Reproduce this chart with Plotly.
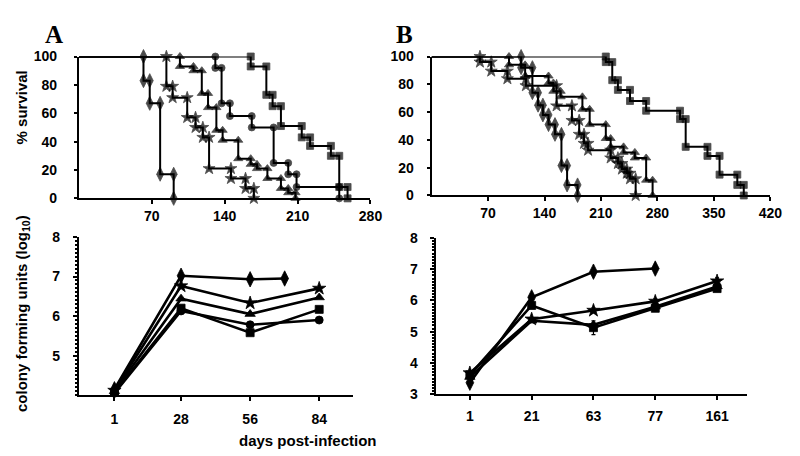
import plotly.graph_objects as go

# ---------------- Survival data (Kaplan-Meier steps) ----------------
# Panel A: event days and survival levels (% before first event, then after each event)
A_diamond_t = [62, 68, 78, 91]
A_diamond_s = [100, 83, 67, 17, 0]
A_star_t = [84, 90, 104, 112, 119, 125, 146, 160, 168]
A_star_s = [100, 79, 71, 57, 50, 43, 21, 14, 7, 0]
A_tri_t = [97, 110, 118, 124, 132, 138, 153, 165, 171, 181, 194, 201, 208]
A_tri_s = [100, 93, 90, 74, 64, 48, 41, 28, 24, 21, 14, 7, 4, 0]
A_circle_t = [131, 137, 145, 166, 187, 201, 209, 250]
A_circle_s = [100, 92, 67, 58, 50, 25, 17, 8, 0]
A_square_t = [165, 180, 186, 194, 214, 222, 242, 250, 258]
A_square_s = [100, 93, 73, 65, 51, 43, 37, 30, 8, 0]

# Panel B
B_diamond_t = [111, 125, 132, 138, 145, 153, 161, 168, 181]
B_diamond_s = [100, 92, 74, 65, 58, 51, 44, 21.5, 7.6, 0]
B_star_t = [60, 74, 94, 117, 155, 174, 183, 189, 194, 222, 231, 236, 242, 246, 253]
B_star_s = [100, 96, 89.5, 84, 79, 64.5, 54, 44, 37.5, 32.6, 27, 23, 19, 16, 12, 0]
B_tri_t = [96, 116, 145, 151, 160, 187, 196, 216, 222, 238, 252, 266, 274]
B_tri_s = [100, 94, 86, 81, 75, 71, 62, 51, 41, 35, 31, 27, 11, 0]
B_square_t = [216, 224, 231, 246, 266, 308, 315, 342, 357, 379, 387]
B_square_s = [100, 96, 83, 76, 68, 61, 55, 35, 28.5, 15, 7.6, 0]

A_surv_ticks = [70, 140, 210, 280]
B_surv_ticks = [70, 140, 210, 280, 350, 420]
surv_yticks = [0, 20, 40, 60, 80, 100]

# ---------------- CFU data (log10) ----------------
A_days = [1, 28, 56, 84]
A_diamond_days = [1, 28, 56, 70]
A_diamond_cfu = [4.15, 7.02, 6.93, 6.95]
A_star_cfu = [4.12, 6.76, 6.33, 6.70]
A_tri_cfu = [4.10, 6.44, 6.05, 6.47]
A_square_cfu = [4.07, 6.20, 5.58, 6.17]
A_circle_cfu = [4.05, 6.13, 5.78, 5.90]

B_day_labels = ["1", "21", "63", "77", "161"]
B_diamond_cfu = [3.37, 6.10, 6.92, 7.02]
B_square_cfu = [3.62, 5.84, 5.13, 5.75, 6.38]
B_square_err = [0.05, 0.05, 0.22, 0.05, 0.08]
B_star_cfu = [3.68, 5.40, 5.68, 5.97, 6.62]
B_star_err = [0.05, 0.05, 0.08, 0.08, 0.10]
B_tri_cfu = [3.55, 5.35, 5.22, 5.80, 6.45]

A_cfu_yticks = [5, 6, 7, 8]
B_cfu_yticks = [3, 4, 5, 6, 7, 8]

SYM = {"diamond": "diamond-tall", "star": "star", "tri": "triangle-up",
       "circle": "circle", "square": "square"}
SIZE = {"diamond": 10, "star": 9, "tri": 8, "circle": 7, "square": 7}

fig = go.Figure()


def km(times, levels):
    xs, ys = [0], [levels[0]]
    for i, t in enumerate(times):
        xs += [t, t]
        ys += [levels[i], levels[i + 1]]
    return xs, ys


def add_km(times, levels, sym, xa, ya):
    xs, ys = km(times, levels)
    sizes = [0] + [SIZE[sym]] * (len(xs) - 1)
    fig.add_trace(go.Scatter(
        x=xs, y=ys, mode="lines+markers", xaxis=xa, yaxis=ya,
        line=dict(color="black", width=2),
        marker=dict(symbol=SYM[sym], size=sizes, color="black",
                    line=dict(color="black", width=0.8)),
        cliponaxis=False, showlegend=False, hoverinfo="skip"))


for t, s, k in [(A_diamond_t, A_diamond_s, "diamond"), (A_star_t, A_star_s, "star"),
                (A_tri_t, A_tri_s, "tri"), (A_circle_t, A_circle_s, "circle"),
                (A_square_t, A_square_s, "square")]:
    add_km(t, s, k, "x", "y")

for t, s, k in [(B_diamond_t, B_diamond_s, "diamond"), (B_star_t, B_star_s, "star"),
                (B_tri_t, B_tri_s, "tri"), (B_square_t, B_square_s, "square")]:
    add_km(t, s, k, "x2", "y2")


def add_cfu(x, y, sym, xa, ya, err=None):
    fig.add_trace(go.Scatter(
        x=x, y=y, mode="lines+markers", xaxis=xa, yaxis=ya,
        line=dict(color="black", width=2.6),
        marker=dict(symbol=SYM[sym], size=SIZE[sym] + 1, color="black",
                    line=dict(color="black", width=0.8)),
        error_y=dict(type="data", array=err, color="black", thickness=1.2, width=2,
                     visible=err is not None),
        cliponaxis=False, showlegend=False, hoverinfo="skip"))


add_cfu(A_diamond_days, A_diamond_cfu, "diamond", "x3", "y3")
add_cfu(A_days, A_star_cfu, "star", "x3", "y3")
add_cfu(A_days, A_tri_cfu, "tri", "x3", "y3")
add_cfu(A_days, A_square_cfu, "square", "x3", "y3")
add_cfu(A_days, A_circle_cfu, "circle", "x3", "y3")

B_idx = list(range(len(B_day_labels)))
add_cfu(B_idx[:len(B_diamond_cfu)], B_diamond_cfu, "diamond", "x4", "y4")
add_cfu(B_idx, B_square_cfu, "square", "x4", "y4", B_square_err)
add_cfu(B_idx, B_star_cfu, "star", "x4", "y4", B_star_err)
add_cfu(B_idx, B_tri_cfu, "tri", "x4", "y4")

W, H = 800, 456
tickfont = dict(family="Liberation Sans", size=14, color="black", weight="bold")


def xd(a, b):
    return [a / W, b / W]


def yd(top, bottom):
    return [1 - bottom / H, 1 - top / H]


axis_common = dict(showline=True, linecolor="black", linewidth=2, ticks="outside",
                   tickcolor="black", tickwidth=1.5, showgrid=False, zeroline=False,
                   tickfont=tickfont, fixedrange=True)

fig.update_layout(
    width=W, height=H, margin=dict(l=0, r=0, t=0, b=0),
    paper_bgcolor="white", plot_bgcolor="white",
    xaxis=dict(domain=xd(72, 368), range=[0, 280], tickvals=A_surv_ticks, ticklen=4,
               anchor="y", **axis_common),
    yaxis=dict(domain=yd(42, 189), range=[0, 100], tickvals=surv_yticks, ticklen=3,
               ticklabelstandoff=14, anchor="x", **axis_common),
    xaxis2=dict(domain=xd(430, 774), range=[0, 420], tickvals=B_surv_ticks, ticklen=4,
                anchor="y2", **axis_common),
    yaxis2=dict(domain=yd(42, 186), range=[0, 100], tickvals=surv_yticks, ticklen=3,
                ticklabelstandoff=10, anchor="x2", **axis_common),
    xaxis3=dict(domain=xd(72, 350), range=[-13.4, 97.6], tickvals=A_days, ticklen=4,
                ticklabelstandoff=6, anchor="y3", **axis_common),
    yaxis3=dict(domain=yd(229, 393), range=[4, 8], tickvals=A_cfu_yticks, ticklen=4,
                ticklabelstandoff=10, anchor="x3",
                minor=dict(ticks="outside", ticklen=2, dtick=0.1, tickcolor="black"),
                **axis_common),
    xaxis4=dict(domain=xd(435, 750), range=[-0.54, 4.48], tickvals=B_idx,
                ticktext=B_day_labels, ticklen=4, ticklabelstandoff=4, anchor="y4",
                **axis_common),
    yaxis4=dict(domain=yd(230, 392), range=[3, 8], tickvals=B_cfu_yticks, ticklen=4,
                ticklabelstandoff=10, anchor="x4",
                minor=dict(ticks="outside", ticklen=2, dtick=0.1, tickcolor="black"),
                **axis_common),
)

lab = dict(family="Liberation Sans", size=15, color="black", weight="bold")
ann = dict(xref="paper", yref="paper", showarrow=False, xanchor="center", yanchor="middle")
letter = dict(family="Liberation Serif", size=25, color="black", weight="bold")
fig.add_annotation(x=47 / W, y=1 - 19 / H, text="A", font=letter, **ann)
fig.add_annotation(x=403 / W, y=1 - 19 / H, text="B", font=letter, **ann)
fig.add_annotation(x=14 / W, y=1 - 95 / H, text="% survival", textangle=-90,
                   font=lab, **ann)
fig.add_annotation(x=14 / W, y=1 - 308 / H, text="colony forming units (log<sub>10</sub>)",
                   textangle=-90, font=lab, **ann)
fig.add_annotation(x=305 / W, y=1 - 440 / H, text="days post-infection", font=lab, **ann)

fig.write_html("out.html")
